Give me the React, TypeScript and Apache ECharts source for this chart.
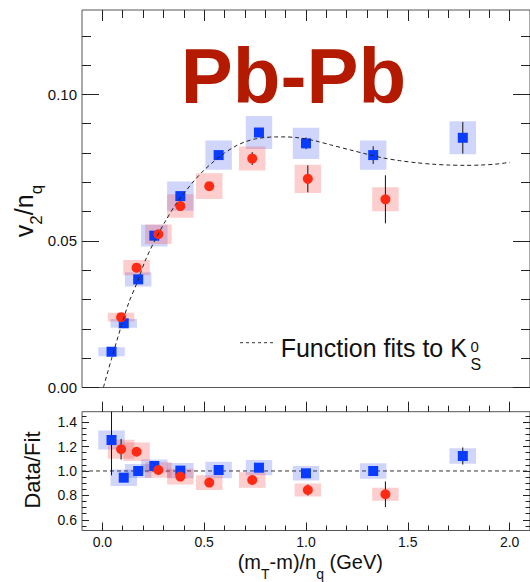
import React, { useEffect, useRef } from "react";
import * as echarts from "echarts";

// ---------- axis ranges & tick labels ----------
const X_MIN = -0.1;
const X_MAX = 2.1;
const V2_MIN = 0;
const V2_MAX = 0.1288;
const RATIO_MIN = 0.512;
const RATIO_MAX = 1.486;
const xMajorTicks = [0, 0.5, 1.0, 1.5, 2.0];
const v2MajorTicks = [0, 0.05, 0.1];
const ratioMajorTicks = [0.6, 0.8, 1.0, 1.2, 1.4];

// ---------- squares (blue) ----------
const squareX = [0.045, 0.105, 0.176, 0.255, 0.383, 0.571, 0.769, 1.0, 1.33, 1.77];
const squareV2 = [0.0122, 0.0219, 0.0369, 0.0518, 0.0653, 0.0793, 0.087, 0.0833, 0.0793, 0.0852];
const squareStat = [0.0003, 0.0003, 0.0004, 0.0005, 0.0007, 0.0009, 0.0012, 0.002, 0.003, 0.0054];
const squareSys = [0.0015, 0.0015, 0.0024, 0.0037, 0.005, 0.005, 0.0056, 0.0053, 0.005, 0.0056];
const squareRatio = [1.254, 0.945, 1.0, 1.041, 1.003, 1.008, 1.027, 0.981, 1.0, 1.123];
const squareRatioStat = [0.29, 0.035, 0.015, 0.015, 0.015, 0.015, 0.018, 0.025, 0.03, 0.07];
const squareRatioSys = [0.078, 0.068, 0.058, 0.054, 0.063, 0.068, 0.063, 0.06, 0.063, 0.064];

// ---------- circles (red) ----------
const circleX = [0.092, 0.168, 0.275, 0.383, 0.525, 0.736, 1.009, 1.39];
const circleV2 = [0.024, 0.0409, 0.0523, 0.0619, 0.0687, 0.0781, 0.0712, 0.0642];
const circleStat = [0.0005, 0.0006, 0.0007, 0.0008, 0.001, 0.0022, 0.0046, 0.0082];
const circleSys = [0.0015, 0.0026, 0.0033, 0.004, 0.0044, 0.0041, 0.0048, 0.0041];
const circleRatio = [1.178, 1.158, 1.008, 0.954, 0.905, 0.926, 0.844, 0.809];
const circleRatioStat = [0.085, 0.02, 0.02, 0.02, 0.02, 0.025, 0.045, 0.105];
const circleRatioSys = [0.078, 0.076, 0.064, 0.064, 0.061, 0.064, 0.054, 0.054];

// ---------- K0S function fit ----------
const fitX = [0.005, 0.045, 0.09, 0.13, 0.17, 0.21, 0.26, 0.31, 0.36, 0.4, 0.45, 0.5, 0.55, 0.6, 0.65, 0.7, 0.75, 0.8, 0.85, 0.9, 0.95, 1.0, 1.06, 1.12, 1.22, 1.3, 1.38, 1.46, 1.54, 1.62, 1.7, 1.78, 1.86, 1.93, 2.0];
const fitV2 = [0.0, 0.0098, 0.0203, 0.029, 0.0357, 0.0432, 0.0505, 0.0568, 0.0625, 0.0662, 0.0705, 0.0742, 0.0773, 0.08, 0.0822, 0.0838, 0.0848, 0.0853, 0.0855, 0.0855, 0.0853, 0.0848, 0.0839, 0.0828, 0.081, 0.0796, 0.0783, 0.0774, 0.0767, 0.0762, 0.0759, 0.0758, 0.0759, 0.0762, 0.0768];

// ---------- style constants ----------
const FONT = "Liberation Sans, Arial, Helvetica, sans-serif";
const BOX_HALF_W = 0.065;
const BLUE = "#0a3cff";
const RED = "#ff2a14";
const BLUE_BOX = "rgba(40,70,235,0.22)";
const RED_BOX = "rgba(245,60,60,0.25)";
const TICK = "#222";

function steps(from: number, to: number, step: number): number[] {
  const out: number[] = [];
  const n = Math.round((to - from) / step);
  for (let i = 0; i <= n; i++) out.push(Math.round((from + i * step) * 10000) / 10000);
  return out;
}

function tickAxis(
  extra: any,
  values: number[],
  length: number,
  inside: boolean,
  label?: { values: number[]; digits: number; fontSize: number; margin: number }
) {
  return {
    type: "value",
    axisLine: { show: false, onZero: false },
    splitLine: { show: false },
    axisTick: {
      show: true,
      inside,
      length,
      customValues: values,
      lineStyle: { color: TICK, width: 1 },
    },
    axisLabel: label
      ? {
          show: true,
          customValues: label.values,
          formatter: (v: number) => v.toFixed(label.digits),
          fontSize: label.fontSize,
          fontFamily: FONT,
          color: "#111",
          margin: label.margin,
        }
      : { show: false },
    ...extra,
  };
}

function boxSeries(xs: number[], ys: number[], ss: number[], color: string, xi: number, yi: number) {
  return {
    type: "custom",
    xAxisIndex: xi,
    yAxisIndex: yi,
    clip: true,
    z: 2,
    silent: true,
    encode: { x: 0, y: 1 },
    data: xs.map((x, i) => [x, ys[i], ss[i]]),
    renderItem: (_p: any, api: any) => {
      const x = api.value(0);
      const y = api.value(1);
      const s = api.value(2);
      const a = api.coord([x - BOX_HALF_W, y + s]);
      const b = api.coord([x + BOX_HALF_W, y - s]);
      return {
        type: "rect",
        shape: { x: a[0], y: a[1], width: b[0] - a[0], height: b[1] - a[1] },
        style: { fill: color },
      };
    },
  };
}

function errSeries(xs: number[], ys: number[], es: number[], xi: number, yi: number, z: number) {
  return {
    type: "custom",
    xAxisIndex: xi,
    yAxisIndex: yi,
    clip: true,
    z,
    silent: true,
    encode: { x: 0, y: 1 },
    data: xs.map((x, i) => [x, ys[i], es[i]]),
    renderItem: (_p: any, api: any) => {
      const x = api.value(0);
      const y = api.value(1);
      const e = api.value(2);
      const a = api.coord([x, y + e]);
      const b = api.coord([x, y - e]);
      return {
        type: "line",
        shape: { x1: a[0], y1: a[1], x2: b[0], y2: b[1] },
        style: { stroke: "#111", lineWidth: 1 },
      };
    },
  };
}

function markerSeries(xs: number[], ys: number[], symbol: string, color: string, xi: number, yi: number, z: number) {
  return {
    type: "scatter",
    xAxisIndex: xi,
    yAxisIndex: yi,
    symbol,
    symbolSize: 10,
    z,
    itemStyle: { color, opacity: 1 },
    data: xs.map((x, i) => [x, ys[i]]),
  };
}

export default function App() {
  const ref = useRef<HTMLDivElement>(null);

  useEffect(() => {
    if (!ref.current) return;
    const chart = echarts.init(ref.current, undefined, { renderer: "svg" });

    const xMinor = steps(0, 2.1, 0.1);
    const v2Minor = steps(0, 0.12, 0.01);
    const ratioMinor = steps(0.55, 1.45, 0.05);

    const xTopBase = { gridIndex: 0, min: X_MIN, max: X_MAX, position: "top" };
    const yTopL = { gridIndex: 0, min: V2_MIN, max: V2_MAX, position: "left" };
    const yTopR = { gridIndex: 0, min: V2_MIN, max: V2_MAX, position: "right" };
    const xBotB = { gridIndex: 1, min: X_MIN, max: X_MAX, position: "bottom" };
    const xBotT = { gridIndex: 1, min: X_MIN, max: X_MAX, position: "top" };
    const yBotL = { gridIndex: 1, min: RATIO_MIN, max: RATIO_MAX, position: "left" };
    const yBotR = { gridIndex: 1, min: RATIO_MIN, max: RATIO_MAX, position: "right" };

    const option: any = {
      animation: false,
      backgroundColor: "#ffffff",
      grid: [
        { left: 82, top: 10, width: 457, height: 377.5, show: true, borderColor: "#555", borderWidth: 1, backgroundColor: "transparent" },
        { left: 82, top: 411.7, width: 457, height: 118.8, show: true, borderColor: "#555", borderWidth: 1, backgroundColor: "transparent" },
      ],
      xAxis: [
        tickAxis(xTopBase, xMajorTicks, 11, true),
        tickAxis(xTopBase, xMinor, 8, true),
        tickAxis(xBotB, xMajorTicks, 8, true, { values: xMajorTicks, digits: 1, fontSize: 14, margin: 4 }),
        tickAxis(xBotB, xMinor, 5, true),
        tickAxis(xBotT, xMajorTicks, 10, false),
        tickAxis(xBotT, xMinor, 6, false),
      ],
      yAxis: [
        tickAxis(yTopL, v2MajorTicks, 17, true, { values: v2MajorTicks, digits: 2, fontSize: 15, margin: 5 }),
        tickAxis(yTopL, v2Minor, 9, true),
        tickAxis(yTopR, v2MajorTicks, 17, true),
        tickAxis(yTopR, v2Minor, 9, true),
        tickAxis(yBotL, ratioMajorTicks, 7, true, { values: ratioMajorTicks, digits: 1, fontSize: 14, margin: 5 }),
        tickAxis(yBotL, ratioMinor, 4.5, true),
        tickAxis(yBotR, ratioMajorTicks, 7, true),
        tickAxis(yBotR, ratioMinor, 4.5, true),
      ],
      series: [
        // top panel
        boxSeries(squareX, squareV2, squareSys, BLUE_BOX, 0, 0),
        boxSeries(circleX, circleV2, circleSys, RED_BOX, 0, 0),
        errSeries(squareX, squareV2, squareStat, 0, 0, 3),
        markerSeries(squareX, squareV2, "rect", BLUE, 0, 0, 4),
        errSeries(circleX, circleV2, circleStat, 0, 0, 5),
        markerSeries(circleX, circleV2, "circle", RED, 0, 0, 6),
        {
          type: "line",
          xAxisIndex: 0,
          yAxisIndex: 0,
          data: fitX.map((x, i) => [x, fitV2[i]]),
          symbol: "none",
          showSymbol: false,
          smooth: 0.3,
          z: 7,
          silent: true,
          lineStyle: { color: "#222", width: 1, type: [4, 3] },
        },
        // ratio panel
        {
          type: "line",
          xAxisIndex: 2,
          yAxisIndex: 4,
          data: [
            [X_MIN, 1],
            [X_MAX, 1],
          ],
          symbol: "none",
          z: 1,
          silent: true,
          lineStyle: { color: "#333", width: 1, type: [4, 3] },
        },
        boxSeries(squareX, squareRatio, squareRatioSys, BLUE_BOX, 2, 4),
        boxSeries(circleX, circleRatio, circleRatioSys, RED_BOX, 2, 4),
        errSeries(squareX, squareRatio, squareRatioStat, 2, 4, 3),
        markerSeries(squareX, squareRatio, "rect", BLUE, 2, 4, 4),
        errSeries(circleX, circleRatio, circleRatioStat, 2, 4, 5),
        markerSeries(circleX, circleRatio, "circle", RED, 2, 4, 6),
      ],
      graphic: [
        {
          type: "text",
          x: 293.5,
          y: 75.7,
          style: {
            text: "Pb-Pb",
            fontSize: 78,
            fontWeight: "bold",
            fontFamily: FONT,
            fill: "#b31a00",
            align: "center",
            verticalAlign: "middle",
          },
        },
        {
          type: "line",
          shape: { x1: 240, y1: 342.7, x2: 275, y2: 342.7 },
          style: { stroke: "#333", lineWidth: 1, lineDash: [3, 3] },
        },
        {
          type: "text",
          x: 280.7,
          y: 348,
          style: { text: "Function fits to K", fontSize: 25, fontFamily: FONT, fill: "#111", align: "left", verticalAlign: "middle" },
        },
        {
          type: "text",
          x: 470.5,
          y: 346.8,
          style: { text: "0", fontSize: 15, fontFamily: FONT, fill: "#111", align: "left", verticalAlign: "middle" },
        },
        {
          type: "text",
          x: 470.5,
          y: 364,
          style: { text: "S", fontSize: 16, fontFamily: FONT, fill: "#111", align: "left", verticalAlign: "middle" },
        },
        {
          type: "text",
          x: 11.8,
          y: 211,
          rotation: Math.PI / 2,
          style: {
            text: "{a|v}{b|2}{a|/n}{b|q}",
            align: "center",
            verticalAlign: "top",
            fontFamily: FONT,
            fill: "#111",
            rich: {
              a: { fontSize: 25, fontFamily: FONT, fill: "#111", verticalAlign: "top" },
              b: { fontSize: 17, fontFamily: FONT, fill: "#111", verticalAlign: "top", padding: [16, 0, 0, 0] },
            },
          },
        },
        {
          type: "text",
          x: 32,
          y: 470,
          rotation: Math.PI / 2,
          style: { text: "Data/Fit", fontSize: 22, fontFamily: FONT, fill: "#111", align: "center", verticalAlign: "middle" },
        },
        {
          type: "text",
          x: 310.3,
          y: 552.4,
          style: {
            text: "{a|(m}{b|T}{a|-m)/n}{b|q}{a| (GeV)}",
            align: "center",
            verticalAlign: "top",
            fontFamily: FONT,
            fill: "#111",
            rich: {
              a: { fontSize: 20, fontFamily: FONT, fill: "#111", verticalAlign: "top" },
              b: { fontSize: 14, fontFamily: FONT, fill: "#111", verticalAlign: "top", padding: [15, 0, 0, 0] },
            },
          },
        },
      ],
    };

    chart.setOption(option);
    return () => {
      chart.dispose();
    };
  }, []);

  return (
    <div
      ref={ref}
      style={{ position: "absolute", left: 0, top: 0, width: 530, height: 582, background: "#fff" }}
    />
  );
}
